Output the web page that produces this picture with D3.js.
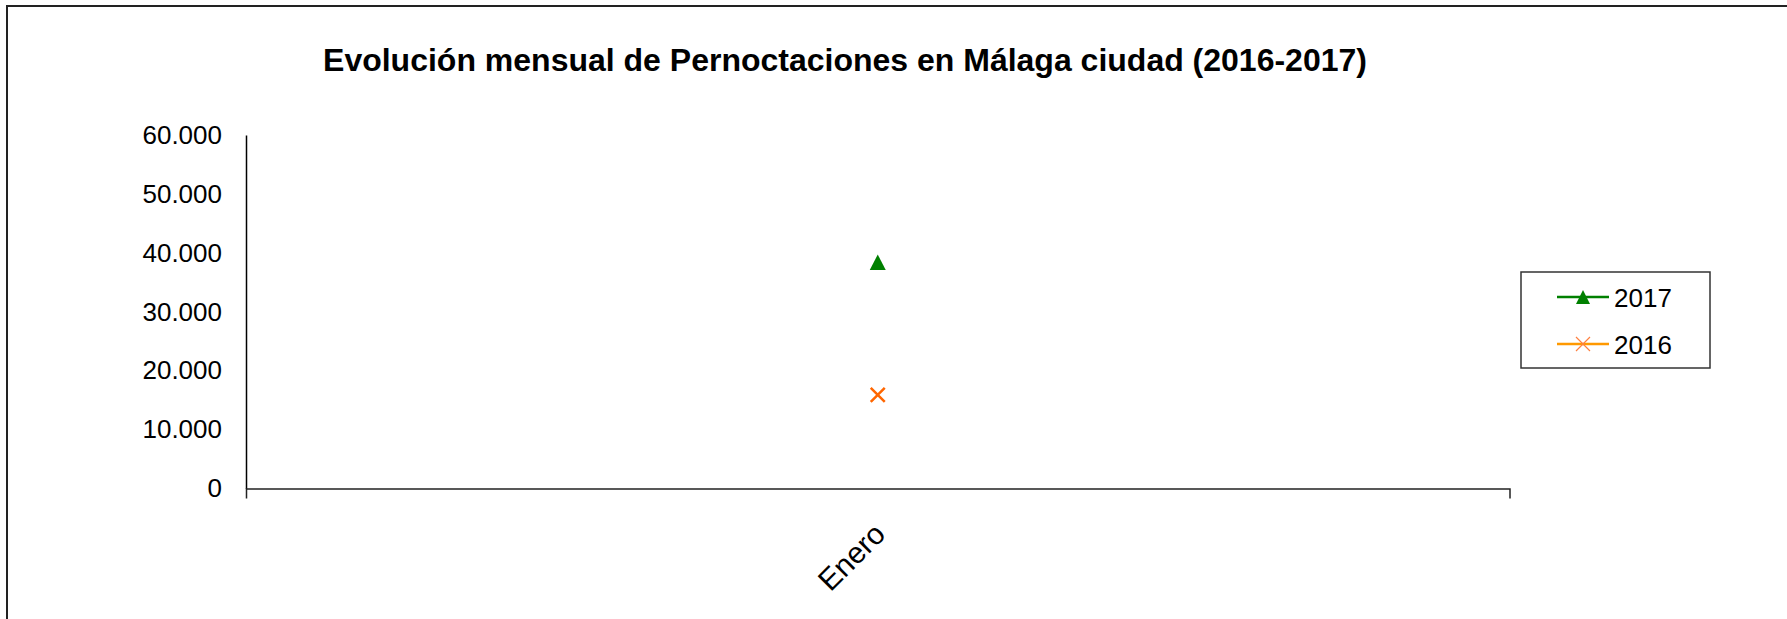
<!DOCTYPE html>
<html>
<head>
<meta charset="utf-8">
<script src="https://cdn.jsdelivr.net/npm/d3@7"></script>
<style>
  body { margin: 0; background: #fff; }
  svg { display: block; font-family: Arial, "Liberation Sans", sans-serif; }
</style>
</head>
<body>
<script>
const categories = ["Enero"];
const values2017 = [38400];
const values2016 = [15900];
const seriesNames = ["2017", "2016"];
const yTicks = [0, 10000, 20000, 30000, 40000, 50000, 60000];
const title = "Evolución mensual de Pernoctaciones en Málaga ciudad (2016-2017)";

const w = 1787;
const h = 619;

const svg = d3.select("body")
              .append("svg")
              .attr("width", w)
              .attr("height", h);

// outer frame (runs off the right and bottom edges)
svg.append("rect")
   .attr("x", 7)
   .attr("y", 6)
   .attr("width", w + 20)
   .attr("height", h + 20)
   .attr("fill", "none")
   .attr("stroke", "#222")
   .attr("stroke-width", 2);

svg.append("text")
   .attr("x", 845)
   .attr("y", 71)
   .attr("text-anchor", "middle")
   .attr("font-size", "32px")
   .attr("font-weight", "bold")
   .attr("fill", "#000")
   .text(title);

const xScale = d3.scaleBand()
                 .domain(categories)
                 .range([246, 1509.5]);

const yScale = d3.scaleLinear()
                 .domain([0, 60000])
                 .range([488.5, 135]);

const es = d3.formatLocale({decimal: ",", thousands: ".", grouping: [3], currency: ["", " €"]});
const fmt = es.format(",");

const yAxis = d3.axisLeft(yScale)
                .tickValues(yTicks)
                .tickFormat(fmt)
                .tickSize(0)
                .tickPadding(24);

const gy = svg.append("g")
              .attr("transform", "translate(246, 0)")
              .call(yAxis);
gy.selectAll("text").attr("font-size", "26px").attr("fill", "#000").attr("font-family", null);
gy.select(".domain").attr("stroke", "#000").attr("stroke-width", 1.5);

const xAxis = d3.axisBottom(xScale)
                .tickSizeInner(0)
                .tickSizeOuter(10)
                .tickPadding(0);

const gx = svg.append("g")
              .attr("transform", "translate(0, 488.5)")
              .call(xAxis);
gx.select(".domain").attr("stroke", "#222").attr("stroke-width", 1.5);
gx.selectAll(".tick text")
  .attr("font-size", "30px")
  .attr("font-family", null)
  .attr("fill", "#000")
  .attr("text-anchor", "end")
  .attr("dy", "0.35em")
  .attr("transform", "translate(2, 40) rotate(-45)")
  .attr("y", 0);

const triPath = "M0,-7.8L8,7.8L-8,7.8Z";
const crossPath = (s) => `M${-s},${-s}L${s},${s}M${-s},${s}L${s},${-s}`;

// 2017 series (triangles)
svg.selectAll(".m2017")
   .data(categories.map((c, i) => ({c: c, v: values2017[i]})))
   .enter()
   .append("path")
   .attr("class", "m2017")
   .attr("d", triPath)
   .attr("transform", (d) => "translate(" + (xScale(d.c) + xScale.bandwidth() / 2) + "," + yScale(d.v) + ")")
   .attr("fill", "#008000");

// 2016 series (crosses)
svg.selectAll(".m2016")
   .data(categories.map((c, i) => ({c: c, v: values2016[i]})))
   .enter()
   .append("path")
   .attr("class", "m2016")
   .attr("d", crossPath(7))
   .attr("transform", (d) => "translate(" + (xScale(d.c) + xScale.bandwidth() / 2) + "," + yScale(d.v) + ")")
   .attr("fill", "none")
   .attr("stroke", "#FF6600")
   .attr("stroke-width", 2.5);

// legend
const legend = svg.append("g");
legend.append("rect")
      .attr("x", 1521)
      .attr("y", 272)
      .attr("width", 189)
      .attr("height", 96)
      .attr("fill", "#fff")
      .attr("stroke", "#333")
      .attr("stroke-width", 1.5);

const legendItems = [
  {name: seriesNames[0], line: "#008000", y: 297},
  {name: seriesNames[1], line: "#FF9900", y: 344}
];

legendItems.forEach((d, i) => {
  legend.append("line")
        .attr("x1", 1557).attr("x2", 1609)
        .attr("y1", d.y).attr("y2", d.y)
        .attr("stroke", d.line)
        .attr("stroke-width", 2.5);
  if (i === 0) {
    legend.append("path")
          .attr("d", "M0,-7L7,7L-7,7Z")
          .attr("transform", "translate(1583," + d.y + ")")
          .attr("fill", "#008000");
  } else {
    legend.append("path")
          .attr("d", crossPath(7))
          .attr("transform", "translate(1583," + d.y + ")")
          .attr("fill", "none")
          .attr("stroke", "#FF8040")
          .attr("stroke-width", 1.2);
  }
  legend.append("text")
        .attr("x", 1614)
        .attr("y", d.y + 9.5)
        .attr("font-size", "26px")
        .attr("fill", "#000")
        .text(d.name);
});
</script>
</body>
</html>
